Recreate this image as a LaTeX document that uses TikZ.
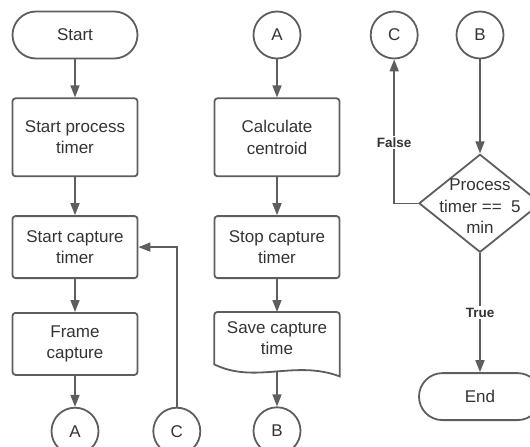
\documentclass[tikz,border=0pt]{standalone}
\usepackage{fontspec}
\setmainfont{Liberation Sans}
\usepackage{xcolor}
\usepackage{tikz}
\usetikzlibrary{arrows.meta,positioning,shapes.geometric,calc,shapes}
\definecolor{linegray}{HTML}{5E5E5E}
\definecolor{textgray}{HTML}{333333}

\begin{document}
\begin{tikzpicture}[
        x=1pt,y=1pt,
        font=\fontsize{17pt}{21.5pt}\selectfont,
        >={Triangle[length=12pt,width=9pt]},
        node distance=38pt,
        term/.style={rectangle,draw=linegray,line width=1.8pt,rounded corners=23.5pt,minimum width=125pt,minimum height=47pt,text=textgray,align=center},
        proc/.style={rectangle,draw=linegray,line width=1.8pt,rounded corners=3pt,minimum width=125pt,minimum height=62pt,text=textgray,align=center},
        conn/.style={circle,draw=linegray,line width=1.8pt,minimum size=47pt,inner sep=0pt,text=textgray},
        decision/.style={diamond,draw=linegray,line width=1.8pt,minimum width=122pt,minimum height=98pt,inner sep=0pt},
        doc/.style={rectangle,minimum width=125pt,minimum height=52pt,text=textgray,align=center},
        lbl/.style={font=\bfseries\fontsize{13.5pt}{16pt}\selectfont,text=textgray,fill=white,inner sep=1.5pt},
        arrow/.style={->,linegray,line width=1.6pt}
    ]
        \useasboundingbox (0,0) rectangle (530,-447);

        % first column
        \node[term] (start) at (75,-35) {Start};
        \node[proc,below=of start,minimum height=78pt] (ptimer) {Start process\\timer};
        \node[proc,below=of ptimer] (ctimer) {Start capture\\timer};
        \node[proc,below=33pt of ctimer] (frame) {Frame\\capture};
        \node[conn,below=31pt of frame] (A1) {A};
        \node[conn,right=53pt of A1] (C1) {C};

        % second column
        \node[conn] (A2) at (277,-35) {A};
        \node[proc,below=of A2,minimum height=78pt] (centroid) {Calculate\\centroid};
        \node[proc,below=of centroid] (stop) {Stop capture\\timer};
        \node[doc,below=33pt of stop] (save) {Save capture\\time};
        \draw[linegray,line width=1.8pt] (save.south west) [rounded corners=3pt] -- (save.north west) -- (save.north east) [sharp corners]
            -- ($(save.south east)+(0,-12)$) .. controls ($(save.south east)+(-45,5)$) and ($(save.south west)+(41,-20)$) .. coordinate[pos=0.5] (savewave) (save.south west) -- cycle;
        \node[conn,below=42pt of save] (B2) {B};

        % third column
        \node[conn] (B3) at (480,-35) {B};
        \node[conn,left=37pt of B3] (C3) {C};
        \node[decision,below=94pt of B3,label={[text=textgray,align=center,yshift=-3pt]center:Process\\timer ==~~5\\min}] (check) {};
        \node[term,below=119pt of check,minimum width=122pt] (end) {End};

        \draw[arrow] (start) -- (ptimer);
        \draw[arrow] (ptimer) -- (ctimer);
        \draw[arrow] (ctimer) -- (frame);
        \draw[arrow] (frame) -- (A1);
        \draw[arrow] (C1.north) |- (ctimer.east);
        \draw[arrow] (A2) -- (centroid);
        \draw[arrow] (centroid) -- (stop);
        \draw[arrow] (stop) -- (save);
        \draw[arrow] (save.south |- savewave) -- (B2);
        \draw[arrow] (B3) -- (check);
        \draw[arrow] (check.west) -| node[lbl,pos=0.71] {False} (C3.south);
        \draw[arrow] (check.south) -- node[lbl] {True} (end.north);
    \end{tikzpicture}
\end{document}
